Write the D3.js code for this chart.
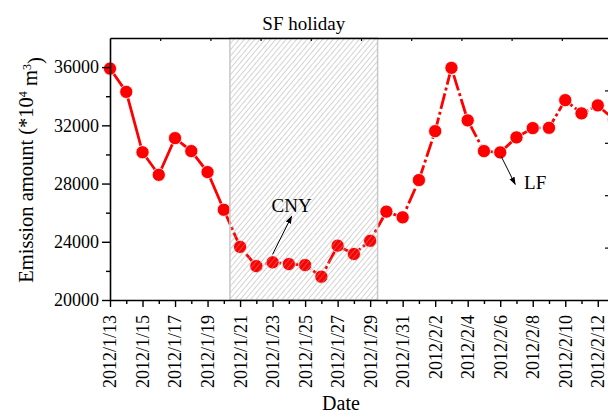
<!DOCTYPE html>
<html>
<head>
<meta charset="utf-8">
<script src="https://cdn.jsdelivr.net/npm/d3@7"></script>
<style>
  body { margin: 0; background: #fff; }
  svg { display: block; }
  text { font-family: "Liberation Serif", "Times New Roman", serif; fill: #000; }
  .axis path, .axis line { stroke: #000; }
</style>
</head>
<body>
<svg id="chart" width="608" height="416"></svg>
<script>
// daily emission values, 2012/1/13 .. 2012/2/13
var days = ["2012/1/13","2012/1/14","2012/1/15","2012/1/16","2012/1/17","2012/1/18","2012/1/19",
  "2012/1/20","2012/1/21","2012/1/22","2012/1/23","2012/1/24","2012/1/25","2012/1/26","2012/1/27",
  "2012/1/28","2012/1/29","2012/1/30","2012/1/31","2012/2/1","2012/2/2","2012/2/3","2012/2/4",
  "2012/2/5","2012/2/6","2012/2/7","2012/2/8","2012/2/9","2012/2/10","2012/2/11","2012/2/12","2012/2/13"];
var emission = [35900, 34300, 30150, 28600, 31120, 30230, 28790, 26200, 23650, 22330, 22590,
  22470, 22400, 21600, 23730, 23160, 24070, 26070, 25680, 28240, 31600, 35950, 32340, 30230,
  30140, 31170, 31810, 31830, 33730, 32820, 33370, 32400];

var dateTicks = ["2012/1/13","2012/1/15","2012/1/17","2012/1/19","2012/1/21","2012/1/23","2012/1/25",
  "2012/1/27","2012/1/29","2012/1/31","2012/2/2","2012/2/4","2012/2/6","2012/2/8","2012/2/10","2012/2/12"];
var yTicks = [20000, 24000, 28000, 32000, 36000];
var yMinorTicks = [22000, 26000, 30000, 34000];
var xDomain = ["2012/1/13 00:00", "2012/2/12 21:00"];
var yDomain = [20000, 38000];

// shaded Spring Festival span
var holiday = ["2012/1/20 09:00", "2012/1/29 11:00"];
var holidayLabel = "SF holiday";

// annotations: label, date of the point it refers to
var notes = [
  { label: "CNY", date: "2012/1/23", from: [0, -8], to: [19, -46], text: [19, -50] },
  { label: "LF",  date: "2012/2/6",  from: [1, 4],  to: [15, 32],  text: [35, 37] }
];

var parseDay = d3.timeParse("%Y/%m/%d");
var parseTime = d3.timeParse("%Y/%m/%d %H:%M");
var fmt = d3.timeFormat("%Y/%-m/%-d");

var data = days.map(function(d, i) { return { date: parseDay(d), value: emission[i] }; });

var svg = d3.select("#chart");
var margin = { left: 110, right: 612, top: 38, bottom: 300 };

var x = d3.scaleTime().domain(xDomain.map(parseTime)).range([margin.left, margin.right]);
var y = d3.scaleLinear().domain(yDomain).range([margin.bottom, margin.top]);
// second layer axes (top / right), only ticks visible
var x2 = d3.scaleLinear().domain([0, 10]).range([margin.left, margin.right]);
var y2 = d3.scaleLinear().domain([0, 5]).range([margin.bottom, margin.top]);

// hatch pattern
var defs = svg.append("defs");
defs.append("pattern")
    .attr("id", "hatch")
    .attr("patternUnits", "userSpaceOnUse")
    .attr("width", 4)
    .attr("height", 4)
    .attr("patternTransform", "rotate(40)")
    .append("line")
    .attr("x1", 0).attr("y1", -1)
    .attr("x2", 0).attr("y2", 5)
    .attr("stroke", "#a0a0a0")
    .attr("stroke-opacity", 0.85)
    .attr("stroke-width", 1.1);

var hx0 = x(parseTime(holiday[0])), hx1 = x(parseTime(holiday[1]));

// the line: solid before the holiday, dash-dot after
var line = d3.line()
    .x(function(d) { return x(d.date); })
    .y(function(d) { return y(d.value); });

svg.append("path")
    .datum(data.slice(0, 8))
    .attr("d", line)
    .attr("fill", "none")
    .attr("stroke", "#ff0000")
    .attr("stroke-width", 2.8);

svg.append("path")
    .datum(data.slice(7))
    .attr("d", line)
    .attr("fill", "none")
    .attr("stroke", "#ff0000")
    .attr("stroke-width", 2.8)
    .attr("stroke-dasharray", "16,3,3,3");

svg.selectAll("circle.pt")
    .data(data)
    .enter()
    .append("circle")
    .attr("class", "pt")
    .attr("cx", function(d) { return x(d.date); })
    .attr("cy", function(d) { return y(d.value); })
    .attr("r", 6.6)
    .attr("fill", "#ff0000")
    .attr("stroke", "#fff")
    .attr("stroke-width", 0.8);

// hatched region on top (so markers inside look striped)
svg.append("rect")
    .attr("x", hx0)
    .attr("y", y(yDomain[1]))
    .attr("width", hx1 - hx0)
    .attr("height", y(yDomain[0]) - y(yDomain[1]))
    .attr("fill", "url(#hatch)")
    .attr("stroke", "#c8c8c8")
    .attr("stroke-width", 1.5);

svg.append("text")
    .attr("x", (hx0 + hx1) / 2)
    .attr("y", 30)
    .attr("text-anchor", "middle")
    .attr("font-size", "19px")
    .text(holidayLabel);

// axes
var xAxis = d3.axisBottom(x)
    .tickValues(dateTicks.map(parseDay))
    .tickFormat(fmt)
    .tickSizeInner(7)
    .tickSizeOuter(0);

var gx = svg.append("g")
    .attr("class", "x axis")
    .attr("transform", "translate(0," + margin.bottom + ")")
    .call(xAxis);
gx.select(".domain").attr("stroke-width", 1.6);
gx.selectAll(".tick line").attr("stroke-width", 1.4);
gx.selectAll("text")
    .attr("font-size", "18px")
    .attr("font-family", "Liberation Serif, serif")
    .attr("transform", "rotate(-90)")
    .attr("text-anchor", "end")
    .attr("x", -15)
    .attr("y", 0)
    .attr("dy", "0.33em");

// minor date ticks
svg.append("g")
    .attr("class", "x minor axis")
    .attr("transform", "translate(0," + margin.bottom + ")")
    .call(d3.axisBottom(x).tickValues(data.filter(function(d, i) { return i % 2 == 1 && i < 31; }).map(function(d) { return d.date; }))
        .tickSize(4).tickFormat(""))
    .call(function(g) { g.select(".domain").remove(); })
    .selectAll("line").attr("stroke-width", 1.4);

var yAxis = d3.axisLeft(y)
    .tickValues(yTicks)
    .tickFormat(d3.format("d"))
    .tickSizeInner(8)
    .tickSizeOuter(0);

var gy = svg.append("g")
    .attr("class", "y axis")
    .attr("transform", "translate(" + margin.left + ",0)")
    .call(yAxis);
gy.select(".domain").attr("stroke-width", 1.6);
gy.selectAll(".tick line").attr("stroke-width", 1.4);
gy.selectAll("text")
    .attr("font-size", "18px")
    .attr("font-family", "Liberation Serif, serif")
    .attr("x", -11);

svg.append("g")
    .attr("transform", "translate(" + margin.left + ",0)")
    .call(d3.axisLeft(y).tickValues(yMinorTicks).tickSize(4).tickFormat(""))
    .call(function(g) { g.select(".domain").remove(); })
    .selectAll("line").attr("stroke-width", 1.4);

// top and right frame
var gTop = svg.append("g")
    .attr("transform", "translate(0," + margin.top + ")")
    .call(d3.axisBottom(x2).tickValues(d3.range(1, 10)).tickSize(3).tickSizeOuter(0).tickFormat(""));
gTop.select(".domain").attr("stroke-width", 1.6);
gTop.selectAll(".tick line").attr("stroke-width", 1.2);

var gRight = svg.append("g")
    .attr("transform", "translate(" + margin.right + ",0)")
    .call(d3.axisLeft(y2).tickValues([1, 2, 3, 4]).tickSize(7).tickSizeOuter(0).tickFormat(""));
gRight.selectAll(".tick line").attr("stroke-width", 1.2);

// axis titles
svg.append("text")
    .attr("x", 341)
    .attr("y", 410)
    .attr("text-anchor", "middle")
    .attr("font-size", "20px")
    .text("Date");

var yTitle = svg.append("text")
    .attr("transform", "translate(33," + 170 + ") rotate(-90)")
    .attr("text-anchor", "middle")
    .attr("font-size", "20.5px");
yTitle.append("tspan").text("Emission amount (*10");
yTitle.append("tspan").attr("dy", "-0.5em").attr("font-size", "12px").text("4");
yTitle.append("tspan").attr("dy", "0.5em").text(" m");
yTitle.append("tspan").attr("dy", "-0.5em").attr("font-size", "12px").text("3");
yTitle.append("tspan").attr("dy", "0.5em").text(")");

// annotations with arrows
defs.append("marker")
    .attr("id", "arrow")
    .attr("viewBox", "0 0 10 10")
    .attr("refX", 9).attr("refY", 5)
    .attr("markerWidth", 8).attr("markerHeight", 8)
    .attr("markerUnits", "userSpaceOnUse")
    .attr("orient", "auto")
    .append("path")
    .attr("d", "M0,1.5 L10,5 L0,8.5 Z")
    .attr("fill", "#000");

notes.forEach(function(n) {
    var d = data.find(function(p) { return fmt(p.date) == n.date; });
    var px = x(d.date), py = y(d.value);
    svg.append("line")
        .attr("x1", px + n.from[0]).attr("y1", py + n.from[1])
        .attr("x2", px + n.to[0]).attr("y2", py + n.to[1])
        .attr("stroke", "#000")
        .attr("stroke-width", 1)
        .attr("marker-end", "url(#arrow)");
    svg.append("text")
        .attr("x", px + n.text[0])
        .attr("y", py + n.text[1])
        .attr("text-anchor", "middle")
        .attr("font-size", "19px")
        .text(n.label);
});
</script>
</body>
</html>
